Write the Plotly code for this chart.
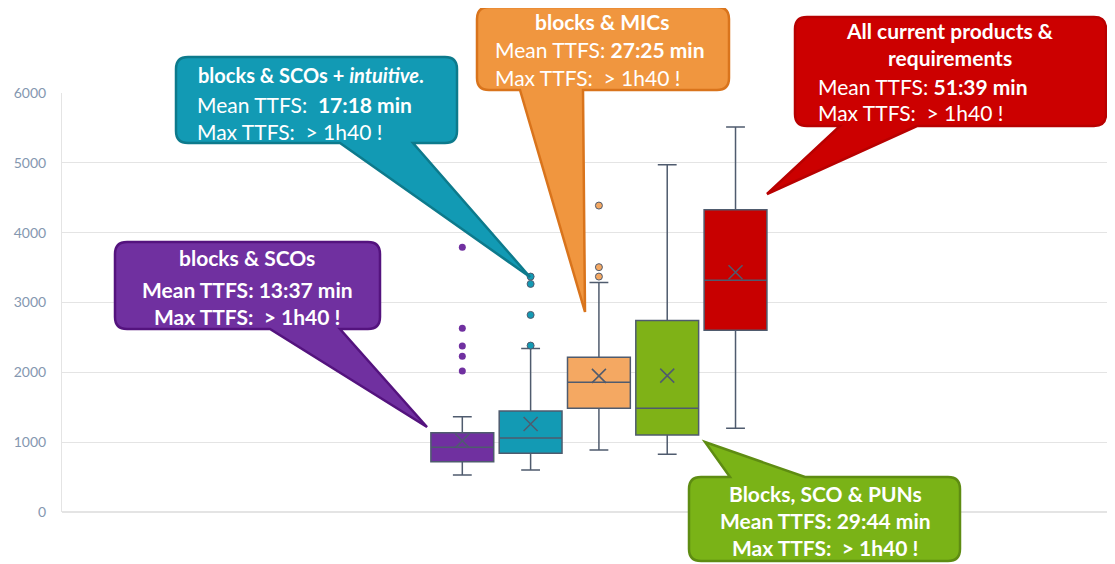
import plotly.graph_objects as go

# TTFS (seconds) box stats
groups = ['blocks & SCOs', 'blocks & SCOs + intuitive', 'blocks & MICs', 'Blocks, SCO & PUNs', 'All current']
q1 = [721, 841, 1486, 1103, 2603]
median = [927, 1060, 1858, 1486, 3320]
q3 = [1136, 1447, 2216, 2741, 4327]
lowerfence = [530, 602, 888, 827, 1199]
upperfence = [1365, 2340, 3285, 4971, 5512]
means = [1021, 1261, 1949, 1953, 3434]
outliers = [
    [3792, 2632, 2378, 2231, 2020],
    [3371, 3266, 2822, 2383],
    [4388, 3506, 3371],
    [],
    [],
]
box_colors = ['#7030a0', '#139ab4', '#f4a862', '#7fb217', '#c80000']
y_ticks = [0, 1000, 2000, 3000, 4000, 5000, 6000]

LINE = '#4f5b6e'
OFF = 8  # page body margin
W, H = 1115 - OFF, 564 - OFF
L, T, B = 62 - OFF, 93 - OFF, 52
R = 0
PW, PH = W - L - R, H - T - B

def px(x):  # screen pixel -> paper
    return (x - OFF - L) / PW

def py(y):
    return (H - B - (y - OFF)) / PH

fig = go.Figure()

for i in range(len(groups)):
    fig.add_trace(go.Box(x=[i], q1=[q1[i]], median=[median[i]], q3=[q3[i]],
                         lowerfence=[lowerfence[i]], upperfence=[upperfence[i]],
                         width=0.92, whiskerwidth=0.3, fillcolor=box_colors[i],
                         line=dict(color=LINE, width=1.5), boxpoints=False,
                         name=groups[i], hoverinfo='skip'))
    if outliers[i]:
        mline = dict(color=LINE, width=1) if i in (1, 2) else dict(width=0)
        fig.add_trace(go.Scatter(x=[i] * len(outliers[i]), y=outliers[i], mode='markers',
                                 marker=dict(color=box_colors[i], size=7, line=mline),
                                 hoverinfo='skip'))
    fig.add_trace(go.Scatter(x=[i], y=[means[i]], mode='markers',
                             marker=dict(symbol='x-thin', size=14, line=dict(color=LINE, width=1.5)),
                             hoverinfo='skip'))

def bubble(x0, y0, x1, y1, r, side, b0, b1, tip):  # rounded box with a pointed tail, pixel coords
    pts = []
    pts.append(('M', x0 + r, y0))
    if side == 'top':
        pts += [('L', b0, y0), ('L', tip[0], tip[1]), ('L', b1, y0)]
    pts.append(('L', x1 - r, y0))
    pts.append(('Q', x1, y0, x1, y0 + r))
    pts.append(('L', x1, y1 - r))
    pts.append(('Q', x1, y1, x1 - r, y1))
    if side == 'bottom':
        pts += [('L', b1, y1), ('L', tip[0], tip[1]), ('L', b0, y1)]
    pts.append(('L', x0 + r, y1))
    pts.append(('Q', x0, y1, x0, y1 - r))
    pts.append(('L', x0, y0 + r))
    pts.append(('Q', x0, y0, x0 + r, y0))
    s = ''
    for p in pts:
        coords = []
        for k in range(1, len(p), 2):
            coords.append(f'{px(p[k]):.5f},{py(p[k + 1]):.5f}')
        s += p[0] + ' ' + ' '.join(coords) + ' '
    return s + 'Z'

callouts = [
    # fill, border, rect, tail side, tail base, tip
    ('#7030a0', '#54137e', (115, 242, 380, 329), 'bottom', 270, 340, (427, 427)),
    ('#129ab4', '#0d7a8c', (176, 57, 457, 143), 'bottom', 340, 413, (530, 277)),
    ('#f0963f', '#d9741c', (477, 7, 729, 90), 'bottom', 520, 583, (585, 312)),
    ('#cc0000', '#b80000', (795, 17, 1106, 126), 'bottom', 840, 917, (767, 194)),
    ('#7ab317', '#5e8c12', (689, 477, 960, 561), 'top', 730, 805, (705, 442)),
]
for fill, border, rect, side, b0, b1, tip in callouts:
    fig.add_shape(type='path', xref='paper', yref='paper', layer='above',
                  path=bubble(*rect, 12, side, b0, b1, tip),
                  fillcolor=fill, line=dict(color=border, width=2.5))

NB = '\u00a0'
texts = [
    # x, y, anchor, size, text
    (247, 258, 'center', 21, '<b>blocks & SCOs</b>'),
    (247, 289, 'center', 21, '<b>Mean TTFS: 13:37 min</b>'),
    (247, 316, 'center', 21, f'<b>Max TTFS: {NB}> 1h40 !</b>'),
    (196, 75, 'left', 20, '<b>blocks & SCOs + <i>intuitive</i>.</b>'),
    (195, 104, 'left', 21, f'Mean TTFS: {NB}<b>17:18 min</b>'),
    (195, 131, 'left', 21, f'Max TTFS: {NB}> 1h40 !'),
    (602, 22, 'center', 21, '<b>blocks & MICs</b>'),
    (493, 50, 'left', 21, 'Mean TTFS: <b>27:25 min</b>'),
    (493, 77, 'left', 21, f'Max TTFS: {NB}> 1h40 !'),
    (950, 30, 'center', 21, '<b>All current products &</b>'),
    (950, 58, 'center', 21, '<b>requirements</b>'),
    (816, 86, 'left', 21, 'Mean TTFS: <b>51:39 min</b>'),
    (816, 112, 'left', 21, f'Max TTFS: {NB}> 1h40 !'),
    (825, 493, 'center', 21, '<b>Blocks, SCO & PUNs</b>'),
    (825, 520, 'center', 21, '<b>Mean TTFS: 29:44 min</b>'),
    (825, 547, 'center', 21, f'<b>Max TTFS: {NB}> 1h40 !</b>'),
]
for x, y, anc, size, t in texts:
    fig.add_annotation(x=px(x), y=py(y), xref='paper', yref='paper', text=t, showarrow=False,
                       xanchor=anc, yanchor='middle', font=dict(family='Lato', size=size, color='white'))

fig.update_layout(
    width=W, height=H, margin=dict(l=L, r=R, t=T, b=B),
    paper_bgcolor='white', plot_bgcolor='white', showlegend=False, boxmode='overlay',
    xaxis=dict(range=[-5.861, 9.556], showticklabels=False, showgrid=False, zeroline=False),
    yaxis=dict(range=[0, 6000], tickvals=y_ticks, showgrid=True, gridcolor='#e4e4e4', gridwidth=1,
               zeroline=True, zerolinecolor='#e4e4e4', showline=True, linecolor='#e4e4e4',
               ticks='', ticklabelstandoff=12, tickfont=dict(family='Lato', size=14, color='#8497b0')),
)

fig.write_html("out.html")
